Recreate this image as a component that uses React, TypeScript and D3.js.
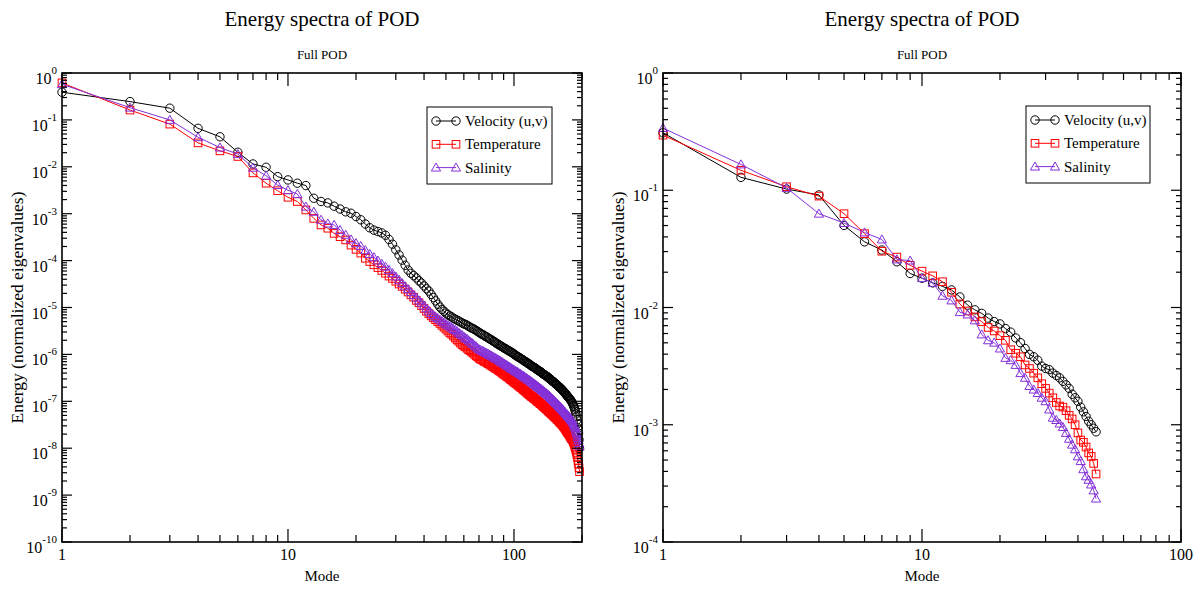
import React from 'react';
import * as d3 from 'd3';

// ---- Data: log10 of normalized eigenvalues, one entry per POD mode ----
const seriesNames = ['Velocity (u,v)', 'Temperature', 'Salinity'];
const seriesColors = ['#000000', '#ff0000', '#8430d8'];
const seriesSymbols = ['circle', 'square', 'triangle'];

const velocityLeftLog = [
  -0.41, -0.61, -0.75, -1.18, -1.36, -1.69, -1.94, -2.01, -2.21, -2.28,
  -2.35, -2.40, -2.67, -2.74, -2.77, -2.84, -2.90, -2.96, -2.99, -3.06,
  -3.13, -3.22, -3.30, -3.35, -3.38, -3.41, -3.46, -3.55, -3.65, -3.77,
  -3.88, -3.99, -4.10, -4.20, -4.27, -4.32, -4.37, -4.43, -4.48, -4.54,
  -4.60, -4.65, -4.72, -4.79, -4.86, -4.93, -4.99, -5.04, -5.08, -5.12,
  -5.15, -5.18, -5.20, -5.23, -5.25, -5.27, -5.29, -5.31, -5.33, -5.35,
  -5.36, -5.38, -5.40, -5.42, -5.44, -5.45, -5.47, -5.49, -5.51, -5.53,
  -5.55, -5.57, -5.58, -5.60, -5.62, -5.63, -5.65, -5.67, -5.68, -5.70,
  -5.72, -5.73, -5.75, -5.77, -5.78, -5.80, -5.81, -5.83, -5.84, -5.86,
  -5.87, -5.88, -5.90, -5.91, -5.92, -5.94, -5.95, -5.96, -5.98, -5.99,
  -6.01, -6.02, -6.04, -6.05, -6.06, -6.07, -6.09, -6.10, -6.11, -6.12,
  -6.14, -6.15, -6.16, -6.17, -6.19, -6.20, -6.21, -6.22, -6.24, -6.25,
  -6.26, -6.27, -6.28, -6.29, -6.30, -6.32, -6.33, -6.34, -6.35, -6.36,
  -6.37, -6.38, -6.40, -6.41, -6.42, -6.43, -6.44, -6.45, -6.46, -6.47,
  -6.48, -6.50, -6.51, -6.52, -6.53, -6.54, -6.56, -6.57, -6.58, -6.59,
  -6.60, -6.62, -6.63, -6.64, -6.65, -6.66, -6.68, -6.69, -6.70, -6.71,
  -6.72, -6.74, -6.75, -6.76, -6.78, -6.79, -6.81, -6.82, -6.84, -6.85,
  -6.87, -6.88, -6.90, -6.91, -6.93, -6.94, -6.96, -6.97, -6.99, -7.01,
  -7.03, -7.05, -7.08, -7.11, -7.14, -7.18, -7.22, -7.27, -7.33, -7.40,
  -7.48, -7.57, -7.68, -7.82, -8.00,
];

const temperatureLeftLog = [
  -0.21, -0.79, -1.09, -1.49, -1.66, -1.78, -2.13, -2.35, -2.51, -2.65,
  -2.74, -2.92, -3.10, -3.24, -3.31, -3.42, -3.49, -3.56, -3.67, -3.76,
  -3.84, -3.95, -4.02, -4.09, -4.15, -4.21, -4.27, -4.33, -4.38, -4.44,
  -4.50, -4.55, -4.61, -4.67, -4.73, -4.78, -4.85, -4.90, -4.96, -5.02,
  -5.08, -5.13, -5.18, -5.22, -5.26, -5.30, -5.34, -5.38, -5.42, -5.46,
  -5.50, -5.54, -5.57, -5.61, -5.65, -5.69, -5.72, -5.76, -5.79, -5.82,
  -5.84, -5.87, -5.90, -5.92, -5.95, -5.97, -6.00, -6.03, -6.05, -6.08,
  -6.10, -6.11, -6.13, -6.15, -6.16, -6.18, -6.20, -6.21, -6.23, -6.25,
  -6.26, -6.28, -6.30, -6.31, -6.33, -6.35, -6.36, -6.38, -6.40, -6.42,
  -6.43, -6.45, -6.47, -6.48, -6.50, -6.52, -6.54, -6.55, -6.57, -6.59,
  -6.60, -6.62, -6.63, -6.65, -6.67, -6.68, -6.70, -6.71, -6.73, -6.75,
  -6.76, -6.78, -6.79, -6.81, -6.83, -6.84, -6.86, -6.87, -6.89, -6.90,
  -6.91, -6.93, -6.94, -6.95, -6.97, -6.98, -7.00, -7.01, -7.02, -7.04,
  -7.05, -7.06, -7.08, -7.09, -7.11, -7.12, -7.13, -7.15, -7.16, -7.17,
  -7.19, -7.20, -7.22, -7.23, -7.24, -7.26, -7.27, -7.28, -7.30, -7.31,
  -7.32, -7.34, -7.35, -7.36, -7.38, -7.39, -7.40, -7.42, -7.43, -7.45,
  -7.46, -7.47, -7.49, -7.50, -7.52, -7.54, -7.55, -7.57, -7.59, -7.61,
  -7.63, -7.65, -7.67, -7.68, -7.70, -7.72, -7.74, -7.76, -7.78, -7.80,
  -7.81, -7.83, -7.86, -7.89, -7.92, -7.96, -8.00, -8.04, -8.09, -8.14,
  -8.20, -8.27, -8.34, -8.42, -8.50,
];

const salinityLeftLog = [
  -0.24, -0.74, -1.00, -1.37, -1.59, -1.73, -2.02, -2.19, -2.39, -2.50,
  -2.58, -2.85, -2.96, -3.13, -3.21, -3.24, -3.35, -3.45, -3.55, -3.63,
  -3.69, -3.78, -3.86, -3.93, -4.00, -4.07, -4.13, -4.20, -4.27, -4.34,
  -4.41, -4.48, -4.55, -4.61, -4.67, -4.73, -4.79, -4.85, -4.90, -4.96,
  -5.02, -5.07, -5.12, -5.16, -5.20, -5.23, -5.26, -5.29, -5.32, -5.35,
  -5.38, -5.40, -5.43, -5.46, -5.48, -5.51, -5.54, -5.57, -5.59, -5.62,
  -5.65, -5.67, -5.70, -5.73, -5.75, -5.78, -5.81, -5.83, -5.86, -5.89,
  -5.90, -5.92, -5.93, -5.95, -5.96, -5.98, -5.99, -6.01, -6.02, -6.04,
  -6.05, -6.07, -6.08, -6.10, -6.11, -6.13, -6.14, -6.16, -6.17, -6.19,
  -6.20, -6.22, -6.23, -6.25, -6.26, -6.28, -6.29, -6.31, -6.32, -6.33,
  -6.35, -6.36, -6.37, -6.38, -6.40, -6.41, -6.42, -6.44, -6.45, -6.46,
  -6.47, -6.49, -6.50, -6.51, -6.53, -6.54, -6.55, -6.56, -6.58, -6.59,
  -6.60, -6.62, -6.63, -6.64, -6.65, -6.67, -6.68, -6.69, -6.71, -6.72,
  -6.73, -6.74, -6.76, -6.77, -6.78, -6.79, -6.81, -6.82, -6.83, -6.84,
  -6.86, -6.87, -6.88, -6.90, -6.91, -6.93, -6.94, -6.95, -6.97, -6.98,
  -7.00, -7.01, -7.02, -7.04, -7.05, -7.06, -7.08, -7.09, -7.11, -7.12,
  -7.13, -7.15, -7.16, -7.17, -7.19, -7.20, -7.22, -7.23, -7.25, -7.26,
  -7.27, -7.29, -7.30, -7.32, -7.33, -7.34, -7.36, -7.37, -7.39, -7.40,
  -7.42, -7.43, -7.46, -7.48, -7.51, -7.54, -7.57, -7.61, -7.65, -7.69,
  -7.73, -7.78, -7.83, -7.89, -7.96,
];

const velocityRightLog = [
  -0.51, -0.89, -0.99, -1.04, -1.30, -1.44, -1.51, -1.61, -1.71, -1.75,
  -1.79, -1.82, -1.85, -1.91, -1.98, -2.02, -2.05, -2.09, -2.12, -2.14,
  -2.18, -2.21, -2.26, -2.30, -2.35, -2.40, -2.42, -2.45, -2.50, -2.52,
  -2.53, -2.56, -2.58, -2.60, -2.63, -2.66, -2.69, -2.74, -2.77, -2.80,
  -2.85, -2.89, -2.93, -2.97, -3.00, -3.03, -3.06,
];

const temperatureRightLog = [
  -0.53, -0.83, -0.97, -1.05, -1.20, -1.37, -1.52, -1.57, -1.64, -1.69,
  -1.73, -1.78, -1.87, -1.97, -2.03, -2.08, -2.12, -2.17, -2.20, -2.24,
  -2.28, -2.36, -2.39, -2.42, -2.49, -2.52, -2.56, -2.60, -2.65, -2.69,
  -2.73, -2.77, -2.81, -2.84, -2.85, -2.88, -2.92, -2.95, -3.00, -3.07,
  -3.13, -3.15, -3.19, -3.24, -3.27, -3.33, -3.42,
];

const salinityRightLog = [
  -0.47, -0.78, -0.98, -1.20, -1.28, -1.36, -1.42, -1.59, -1.60, -1.75,
  -1.79, -1.90, -1.94, -2.04, -2.06, -2.11, -2.23, -2.28, -2.30, -2.35,
  -2.43, -2.45, -2.49, -2.56, -2.60, -2.67, -2.70, -2.73, -2.77, -2.80,
  -2.87, -2.94, -2.96, -2.99, -3.02, -3.07, -3.12, -3.17, -3.21, -3.27,
  -3.31, -3.38, -3.44, -3.47, -3.51, -3.56, -3.63,
];

const titleText = 'Energy spectra of POD';
const subtitleText = 'Full POD';
const xLabelText = 'Mode';
const yLabelText = 'Energy (normalized eigenvalues)';

const leftXDomain = [1, 200];
const leftYExponents = [-10, 0];
const rightXDomain = [1, 100];
const rightYExponents = [-4, 0];

const FONT = "'Liberation Serif', 'Times New Roman', Times, serif";

type Panel = {
  left: number; right: number; top: number; bottom: number;
  xDomain: number[]; yExp: number[];
  series: number[][];
  legend: { x: number; y: number; w: number; h: number };
};

function Symbol({ kind, x, y, color }: { kind: string; x: number; y: number; color: string }) {
  if (kind === 'circle') {
    return <circle cx={x} cy={y} r={4.2} fill="none" stroke={color} strokeWidth={1} />;
  }
  if (kind === 'square') {
    return <rect x={x - 3.8} y={y - 3.8} width={7.6} height={7.6} fill="none" stroke={color} strokeWidth={1} />;
  }
  const s = 4.6;
  return (
    <path
      d={`M${x},${y - s}L${x + s},${y + s * 0.75}L${x - s},${y + s * 0.75}Z`}
      fill="none" stroke={color} strokeWidth={1}
    />
  );
}

function PanelView({ p }: { p: Panel }) {
  const x = d3.scaleLog().domain(p.xDomain).range([p.left, p.right]);
  const y = d3.scaleLog().domain([Math.pow(10, p.yExp[0]), Math.pow(10, p.yExp[1])]).range([p.bottom, p.top]);
  const cx = (p.left + p.right) / 2;
  const cy = (p.top + p.bottom) / 2;

  const xMajor: number[] = [];
  const xMinor: number[] = [];
  for (let e = 0; Math.pow(10, e) <= p.xDomain[1]; e++) {
    const base = Math.pow(10, e);
    xMajor.push(base);
    for (let k = 2; k <= 9; k++) {
      const v = k * base;
      if (v <= p.xDomain[1]) xMinor.push(v);
    }
  }
  const yMajor: number[] = [];
  const yMinor: number[] = [];
  for (let e = p.yExp[0]; e <= p.yExp[1]; e++) {
    yMajor.push(e);
    if (e < p.yExp[1]) for (let k = 2; k <= 9; k++) yMinor.push(k * Math.pow(10, e));
  }

  const line = d3.line<[number, number]>().x((d) => d[0]).y((d) => d[1]);

  const xMajLen = 13, xMinLen = 7, yMajLen = 10, yMinLen = 5;

  return (
    <g>
      <text x={cx} y={26} textAnchor="middle" fontSize={21} fontFamily={FONT}>{titleText}</text>
      <text x={cx} y={59} textAnchor="middle" fontSize={13} fontFamily={FONT}>{subtitleText}</text>

      {p.series.map((logs, si) => {
        const pts: [number, number][] = logs.map((v, i) => [x(i + 1), y(Math.pow(10, v))]);
        return (
          <g key={si}>
            <path d={line(pts) || ''} fill="none" stroke={seriesColors[si]} strokeWidth={1} />
            {pts.map((pt, i) => (
              <Symbol key={i} kind={seriesSymbols[si]} x={pt[0]} y={pt[1]} color={seriesColors[si]} />
            ))}
          </g>
        );
      })}

      <rect x={p.left} y={p.top} width={p.right - p.left} height={p.bottom - p.top} fill="none" stroke="#000" strokeWidth={1.6} />

      {xMajor.map((v) => (
        <g key={'xM' + v}>
          <line x1={x(v)} x2={x(v)} y1={p.bottom} y2={p.bottom - xMajLen} stroke="#000" strokeWidth={1.2} />
          <line x1={x(v)} x2={x(v)} y1={p.top} y2={p.top + xMajLen} stroke="#000" strokeWidth={1.2} />
          <text x={x(v)} y={p.bottom + 18} textAnchor="middle" fontSize={16} fontFamily={FONT}>{String(v)}</text>
        </g>
      ))}
      {xMinor.map((v) => (
        <g key={'xm' + v}>
          <line x1={x(v)} x2={x(v)} y1={p.bottom} y2={p.bottom - xMinLen} stroke="#000" strokeWidth={1.2} />
          <line x1={x(v)} x2={x(v)} y1={p.top} y2={p.top + xMinLen} stroke="#000" strokeWidth={1.2} />
        </g>
      ))}

      {yMajor.map((e) => {
        const yy = y(Math.pow(10, e));
        return (
          <g key={'yM' + e}>
            <line x1={p.left} x2={p.left + yMajLen} y1={yy} y2={yy} stroke="#000" strokeWidth={1.2} />
            <line x1={p.right} x2={p.right - yMajLen} y1={yy} y2={yy} stroke="#000" strokeWidth={1.2} />
            <text x={p.left - 5} y={yy + 11} textAnchor="end" fontSize={16} fontFamily={FONT}>
              10<tspan fontSize={11} dy={-10}>{String(e)}</tspan>
            </text>
          </g>
        );
      })}
      {yMinor.map((v) => {
        const yy = y(v);
        return (
          <g key={'ym' + v}>
            <line x1={p.left} x2={p.left + yMinLen} y1={yy} y2={yy} stroke="#000" strokeWidth={1.2} />
            <line x1={p.right} x2={p.right - yMinLen} y1={yy} y2={yy} stroke="#000" strokeWidth={1.2} />
          </g>
        );
      })}

      <text x={cx} y={581} textAnchor="middle" fontSize={15} fontFamily={FONT}>{xLabelText}</text>
      <text transform={`translate(${p.left - 39},${cy}) rotate(-90)`} textAnchor="middle" fontSize={17.5} fontFamily={FONT}>{yLabelText}</text>

      <rect x={p.legend.x} y={p.legend.y} width={p.legend.w} height={p.legend.h} fill="#fff" stroke="#000" strokeWidth={1} />
      {seriesNames.map((name, si) => {
        const ly = p.legend.y + 14 + si * 23.3;
        const x1 = p.legend.x + 9;
        const x2 = p.legend.x + 29;
        return (
          <g key={'lg' + si}>
            <line x1={x1} x2={x2} y1={ly} y2={ly} stroke={seriesColors[si]} strokeWidth={1} />
            <Symbol kind={seriesSymbols[si]} x={x1} y={ly} color={seriesColors[si]} />
            <Symbol kind={seriesSymbols[si]} x={x2} y={ly} color={seriesColors[si]} />
            <text x={p.legend.x + 38} y={ly + 5} fontSize={15} fontFamily={FONT}>{name}</text>
          </g>
        );
      })}
    </g>
  );
}

export default function App() {
  const panels: Panel[] = [
    {
      left: 62, right: 582, top: 73, bottom: 542,
      xDomain: leftXDomain, yExp: leftYExponents,
      series: [velocityLeftLog, temperatureLeftLog, salinityLeftLog],
      legend: { x: 427, y: 107, w: 125, h: 77 },
    },
    {
      left: 663, right: 1181, top: 73, bottom: 542,
      xDomain: rightXDomain, yExp: rightYExponents,
      series: [velocityRightLog, temperatureRightLog, salinityRightLog],
      legend: { x: 1026, y: 106, w: 124, h: 77 },
    },
  ];
  return (
    <svg width={1204} height={590} style={{ position: 'absolute', left: 0, top: 0, background: '#fff' }}>
      <rect x={0} y={0} width={1204} height={590} fill="#fff" />
      {panels.map((p, i) => <PanelView key={i} p={p} />)}
    </svg>
  );
}
